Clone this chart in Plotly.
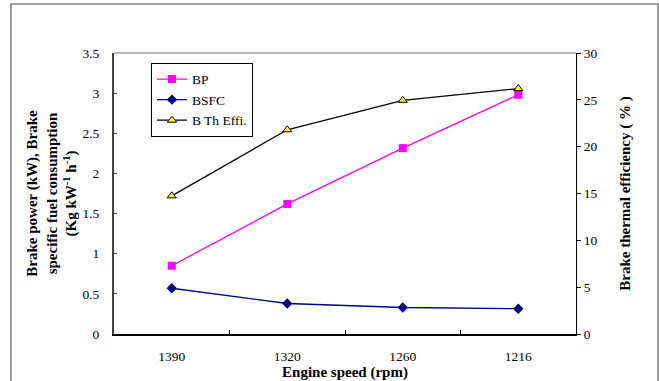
import plotly.graph_objects as go

speeds = ["1390", "1320", "1260", "1216"]
bp = [0.85, 1.62, 2.315, 2.98]
bsfc = [0.57, 0.38, 0.33, 0.315]
bte = [14.75, 21.8, 24.95, 26.2]

FONT = "'Liberation Serif', 'Times New Roman', 'DejaVu Serif', serif"
TICK = 13.5
TITLE = 15

fig = go.Figure()
fig.add_trace(go.Scatter(
    x=speeds, y=bp, name="BP", mode="lines+markers",
    line=dict(color="#FF00FF", width=1.3),
    marker=dict(symbol="square", size=8, color="#FF00FF"),
))
fig.add_trace(go.Scatter(
    x=speeds, y=bsfc, name="BSFC", mode="lines+markers",
    line=dict(color="#000080", width=1.3),
    marker=dict(symbol="diamond", size=8, color="#000080"),
))
fig.add_trace(go.Scatter(
    x=speeds, y=bte, name="B Th Effi.", mode="lines+markers", yaxis="y2",
    line=dict(color="black", width=1.3),
    marker=dict(symbol="triangle-up", size=8, color="#FFFF00",
                line=dict(color="black", width=1)),
))

fig.update_layout(
    width=659, height=381,
    margin=dict(l=114, r=83, t=53, b=47),
    paper_bgcolor="white", plot_bgcolor="white",
    font=dict(family=FONT, size=13, color="black"),
    showlegend=True,
    legend=dict(
        x=0.08, y=0.965, xanchor="left", yanchor="top",
        bordercolor="black", borderwidth=1, bgcolor="white",
        font=dict(family=FONT, size=13.5),
        itemwidth=30, tracegroupgap=0,
    ),
    xaxis=dict(
        type="category", range=[-0.5, 3.5], automargin=False,
        tickson="boundaries", ticks="inside", ticklen=4, tickcolor="black",
        showline=True, linecolor="black", linewidth=1.5,
        showgrid=False, zeroline=False, ticklabelstandoff=9,
        title=dict(text="<b>Engine speed (rpm)</b>", standoff=2, font=dict(family=FONT, size=TITLE)),
        tickfont=dict(family=FONT, size=TICK),
    ),
    yaxis=dict(
        range=[0, 3.5], dtick=0.5, tickformat="~g", automargin=False,
        ticks="inside", ticklen=3, tickcolor="#404040",
        showline=True, linecolor="#404040", linewidth=2,
        showgrid=False, zeroline=False, ticklabelstandoff=10,
        title=dict(text="<b>Brake power (kW), Brake<br>specific fuel consumption<br>(Kg kW<sup>-1</sup> h<sup>-1</sup>)</b>",
                   standoff=2, font=dict(family=FONT, size=TITLE)),
        tickfont=dict(family=FONT, size=TICK),
    ),
    yaxis2=dict(
        range=[0, 30], dtick=5, overlaying="y", side="right", automargin=False,
        ticks="outside", ticklen=4, tickcolor="black",
        showline=True, linecolor="black", linewidth=1.2,
        showgrid=False, zeroline=False,
        title=dict(text="<b>Brake thermal efficiency ( % )</b>", standoff=22, font=dict(family=FONT, size=TITLE)),
        tickfont=dict(family=FONT, size=TICK),
    ),
    shapes=[
        dict(type="line", xref="paper", yref="paper", x0=0, x1=1, y0=1, y1=1,
             line=dict(color="#A0A0A0", width=1.5)),
        dict(type="rect", xref="paper", yref="paper",
             x0=-0.223, x1=1.1775, y0=-0.25, y1=1.174,
             line=dict(color="#808080", width=1.5)),
    ],
)

fig.write_html("out.html")
